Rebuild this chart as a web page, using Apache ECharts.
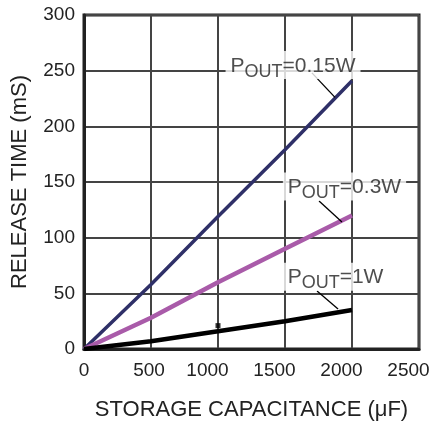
<!DOCTYPE html>
<html><head><meta charset="utf-8">
<script src="https://cdn.jsdelivr.net/npm/echarts@6/dist/echarts.min.js"></script>
<style>html,body{margin:0;padding:0;background:#fff}#c{width:434px;height:428px}</style>
</head><body><div id="c"></div>
<script>
// Data
var xTicks = [0, 500, 1000, 1500, 2000, 2500];
var yTicks = [0, 50, 100, 150, 200, 250, 300];
var cap = [0, 500, 1000, 1500, 2000];
var p015 = [0, 58, 119, 179, 241];
var p03 = [0, 28, 60, 90, 120];
var p1 = [0, 7, 16, 25, 35];
var p1Marker = [[1000, 21]];
var labelNames = ['0.15W', '0.3W', '1W'];
var labelPos = [[1560, 255], [1944, 146], [1877, 65]];
var leaders = [
  [[1701, 248], [1873, 226]],
  [[1754, 133], [1925, 114]],
  [[1739, 52], [1896, 36]]
];

function pairs(xs, ys) { return xs.map(function (x, i) { return [x, ys[i]]; }); }

var font = 'Liberation Sans, Arial, sans-serif';
var series = [
  { type: 'line', data: pairs(cap, p015), symbol: 'none', lineStyle: { color: '#2f3068', width: 3.5 }, z: 5 },
  { type: 'line', data: pairs(cap, p03), symbol: 'none', lineStyle: { color: '#a95ba9', width: 4.5 }, z: 5 },
  { type: 'line', data: pairs(cap, p1), symbol: 'none', lineStyle: { color: '#000', width: 4.5 }, z: 5 },
  { type: 'scatter', data: p1Marker, symbol: 'rect', symbolSize: 5, itemStyle: { color: '#000' }, z: 6 }
];
leaders.forEach(function (l) {
  series.push({ type: 'line', data: l, symbol: 'none', lineStyle: { color: '#000', width: 1.3 }, z: 7 });
});
series.push({
  type: 'scatter', symbolSize: 0, z: 8,
  data: labelPos.map(function (p, i) { return { value: p, name: labelNames[i] }; }),
  label: {
    show: true, position: 'inside',
    formatter: function (p) { return '{a|P}{b|OUT}{a|=' + p.name + '}'; },
    backgroundColor: '#fff', padding: [2, 5, 0, 5],
    rich: {
      a: { fontSize: 21, fontFamily: font, color: '#222', verticalAlign: 'middle', lineHeight: 26 },
      b: { fontSize: 18, fontFamily: font, color: '#222', verticalAlign: 'middle', padding: [11, 0, 0, 0], lineHeight: 26 }
    }
  }
});

var chart = echarts.init(document.getElementById('c'), null, { renderer: 'canvas' });
chart.setOption({
  animation: false,
  backgroundColor: '#fff',
  grid: { left: 84, right: 15, top: 15, bottom: 79, containLabel: false, outerBoundsMode: 'none', show: true, borderColor: '#222', borderWidth: 3, backgroundColor: 'transparent' },
  xAxis: {
    type: 'value', min: xTicks[0], max: xTicks[xTicks.length - 1], interval: 500,
    name: 'STORAGE CAPACITANCE (μF)', nameLocation: 'middle', nameGap: 50,
    nameTextStyle: { fontSize: 22, fontFamily: font, color: '#222' },
    axisLine: { show: true, lineStyle: { color: '#222', width: 3 } },
    axisTick: { show: false },
    axisLabel: {
      fontSize: 19, fontFamily: font, color: '#222', margin: 12,
      formatter: function (v) { return v >= 1000 ? '{s|' + v + '}' : (v > 0 ? '{m|' + v + '}' : String(v)); },
      rich: {
        s: { fontSize: 19, fontFamily: font, color: '#222', padding: [0, 21, 0, 0] },
        m: { fontSize: 19, fontFamily: font, color: '#222', padding: [0, 4, 0, 0] }
      }
    },
    splitLine: { show: true, lineStyle: { color: '#444', width: 2 } }
  },
  yAxis: {
    type: 'value', min: yTicks[0], max: yTicks[yTicks.length - 1], interval: 50,
    name: 'RELEASE TIME (mS)', nameLocation: 'middle', nameGap: 53,
    nameTextStyle: { fontSize: 22, fontFamily: font, color: '#222' },
    axisLine: { show: true, lineStyle: { color: '#222', width: 3 } },
    axisTick: { show: false },
    axisLabel: { fontSize: 19, fontFamily: font, color: '#222', margin: 9, formatter: function (v) { return String(v); } },
    splitLine: { show: true, lineStyle: { color: '#444', width: 2 } }
  },
  series: series
});
</script></body></html>
